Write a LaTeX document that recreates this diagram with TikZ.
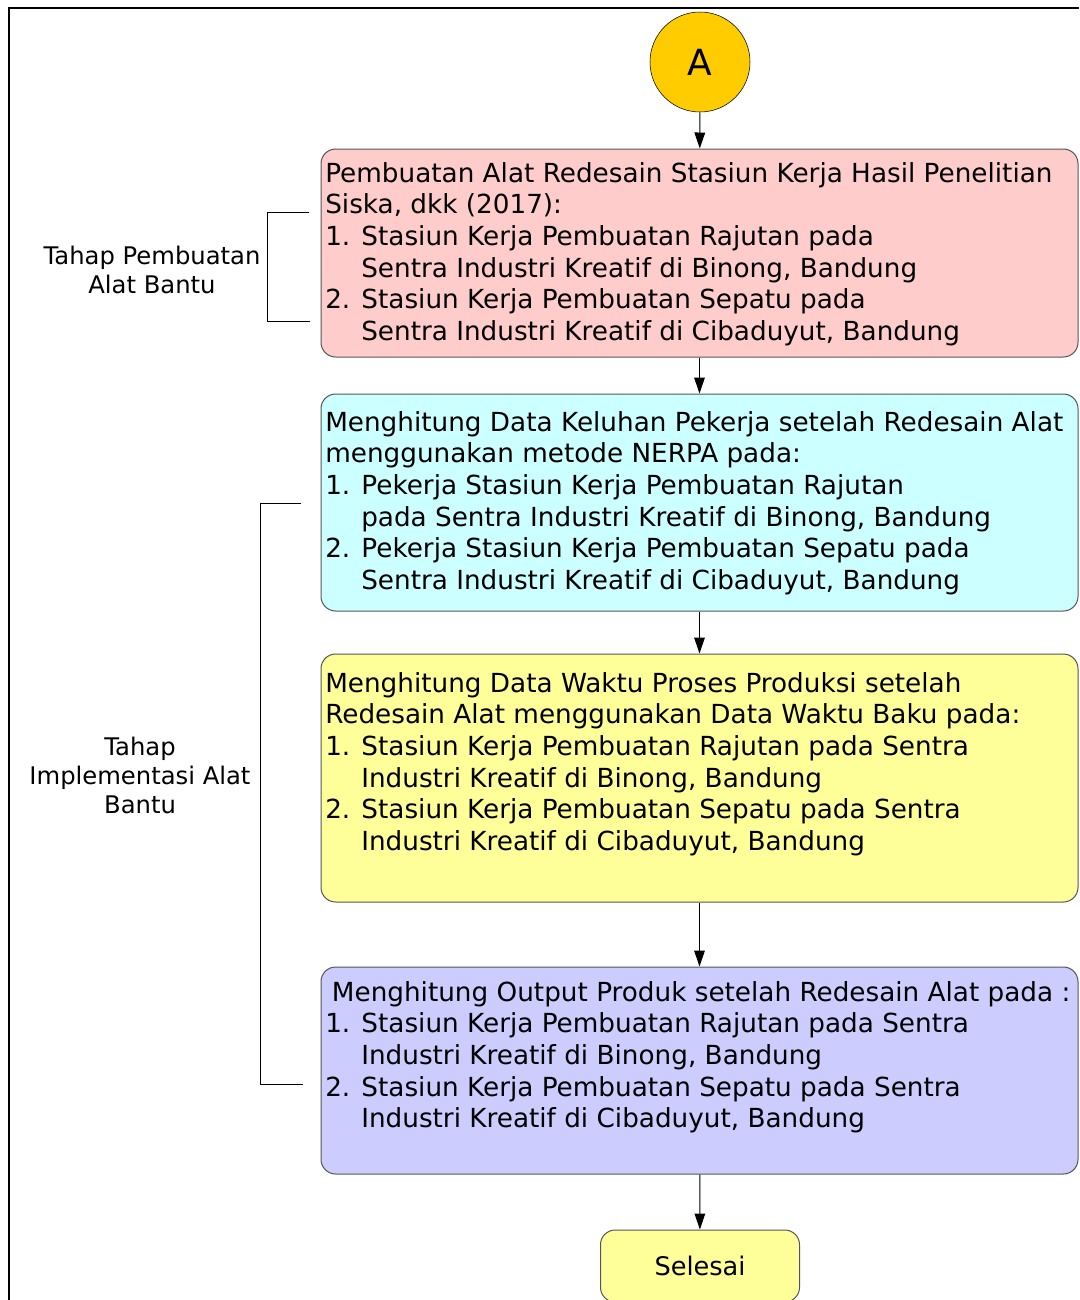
\documentclass[tikz,border=0pt]{standalone}
\usepackage{fontspec}
\setmainfont{DejaVu Sans}
\usetikzlibrary{arrows.meta}
\definecolor{pinkbox}{HTML}{FFCCCC}
\definecolor{cyanbox}{HTML}{CCFFFF}
\definecolor{yellowbox}{HTML}{FFFF99}
\definecolor{bluebox}{HTML}{CCCCFF}
\definecolor{goldA}{HTML}{FFCC00}
\definecolor{edgegray}{HTML}{555555}
\newcommand{\ind}{\hspace*{27pt}}

\begin{document}
\begin{tikzpicture}[x=0.75pt,y=-0.75pt,
	box/.style={draw=edgegray, line width=0.75pt, rounded corners=11pt, inner sep=0pt},
	boxtext/.style={anchor=north west, inner sep=0pt, align=left,
		font=\fontsize{19.7}{23.7}\selectfont},
	sidetext/.style={inner sep=0pt, align=center,
		font=\fontsize{18.2}{21.75}\selectfont},
	arr/.style={-{Triangle[length=12pt,width=8pt]}, line width=0.75pt}]
	\useasboundingbox (0,0) rectangle (1079,1300);
	\draw [line width=1.6pt] (1079,8) -- (9,8) -- (9,1300);
	% start
	\node [circle, draw, fill=goldA, minimum size=75pt, inner sep=0pt,
		font=\fontsize{27}{30}\selectfont] (A) at (700,62) {A};
	% boxes
	\node [box, fill=pinkbox, minimum width=567.75pt, minimum height=156pt] (b1) at (699.5,253) {};
	\node [box, fill=cyanbox, minimum width=567.75pt, minimum height=162.75pt] (b2) at (699.5,502.5) {};
	\node [box, fill=yellowbox, minimum width=567.75pt, minimum height=186pt] (b3) at (699.5,778) {};
	\node [box, fill=bluebox, minimum width=567.75pt, minimum height=155.25pt] (b4) at (699.5,1070.5) {};
	\node [box, fill=yellowbox, minimum width=149.25pt, minimum height=54pt,
		font=\fontsize{19.2}{23.7}\selectfont] (end) at (700,1266) {Selesai};
	% texts
	\node [boxtext] (t1) at (325,162) {Pembuatan Alat Redesain Stasiun Kerja Hasil Penelitian\\
		Siska, dkk (2017):\\
		1. Stasiun Kerja Pembuatan Rajutan pada\\
		\ind Sentra Industri Kreatif di Binong, Bandung\\
		2. Stasiun Kerja Pembuatan Sepatu pada\\
		\ind Sentra Industri Kreatif di Cibaduyut, Bandung};
	\node [boxtext] (t2) at (325,411) {Menghitung Data Keluhan Pekerja setelah Redesain Alat\\
		menggunakan metode NERPA pada:\\
		1. Pekerja Stasiun Kerja Pembuatan Rajutan\\
		\ind pada Sentra Industri Kreatif di Binong, Bandung\\
		2. Pekerja Stasiun Kerja Pembuatan Sepatu pada\\
		\ind Sentra Industri Kreatif di Cibaduyut, Bandung};
	\node [boxtext] (t3) at (325,672) {Menghitung Data Waktu Proses Produksi setelah\\
		Redesain Alat menggunakan Data Waktu Baku pada:\\
		1. Stasiun Kerja Pembuatan Rajutan pada Sentra\\
		\ind Industri Kreatif di Binong, Bandung\\
		2. Stasiun Kerja Pembuatan Sepatu pada Sentra\\
		\ind Industri Kreatif di Cibaduyut, Bandung};
	\node [boxtext] (t4) at (325,981) {\hspace*{5pt}Menghitung Output Produk setelah Redesain Alat pada :\\
		1. Stasiun Kerja Pembuatan Rajutan pada Sentra\\
		\ind Industri Kreatif di Binong, Bandung\\
		2. Stasiun Kerja Pembuatan Sepatu pada Sentra\\
		\ind Industri Kreatif di Cibaduyut, Bandung};
	% flow
	\draw [arr] (A) -- (b1);
	\draw [arr] (b1) -- (b2);
	\draw [arr] (b2) -- (b3);
	\draw [arr] (b3) -- (b4);
	\draw [arr] (b4) -- (end);
	% stages
	\draw [line width=0.75pt] (309,212) -- (267,212) -- (267,321) -- (310,321);
	\node [sidetext] (s1) at (152,270) {Tahap Pembuatan\\Alat Bantu};
	\draw [line width=0.75pt] (301,503) -- (260,503) -- (260,1084) -- (303,1084);
	\node [sidetext] (s2) at (140,775) {Tahap\\Implementasi Alat\\Bantu};
\end{tikzpicture}
\end{document}
